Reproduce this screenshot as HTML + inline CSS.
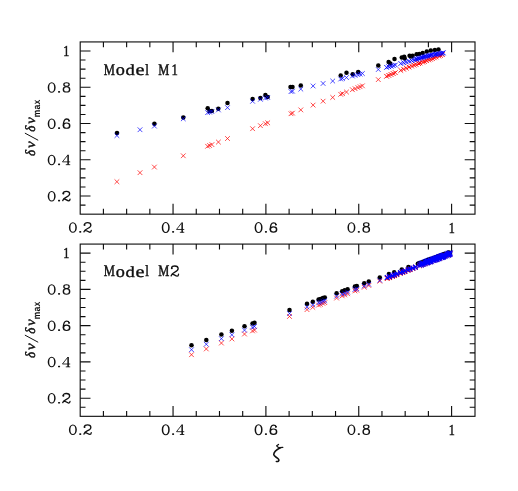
<!DOCTYPE html>
<html><head><meta charset="utf-8"><title>chart</title>
<style>
html,body{margin:0;padding:0;background:#fff;}
body{width:518px;height:491px;overflow:hidden;}
svg{display:block;font-family:"Liberation Serif",serif;}
svg text{text-rendering:geometricPrecision;filter:grayscale(1);}
</style></head><body>
<svg width="518" height="491" viewBox="0 0 518 491">
<rect width="518" height="491" fill="#fff"/>
<rect x="80.2" y="41.93" width="394.80" height="172.24" fill="none" stroke="#0d0d0d" stroke-width="1.12"/>
<path d="M103.41 41.93v5.3M103.41 214.17v-5.3M126.63 41.93v5.3M126.63 214.17v-5.3M149.84 41.93v5.3M149.84 214.17v-5.3M173.05 41.93v10.3M173.05 214.17v-10.3M196.26 41.93v5.3M196.26 214.17v-5.3M219.48 41.93v5.3M219.48 214.17v-5.3M242.69 41.93v5.3M242.69 214.17v-5.3M265.90 41.93v10.3M265.90 214.17v-10.3M289.11 41.93v5.3M289.11 214.17v-5.3M312.32 41.93v5.3M312.32 214.17v-5.3M335.54 41.93v5.3M335.54 214.17v-5.3M358.75 41.93v10.3M358.75 214.17v-10.3M381.96 41.93v5.3M381.96 214.17v-5.3M405.17 41.93v5.3M405.17 214.17v-5.3M428.39 41.93v5.3M428.39 214.17v-5.3M451.60 41.93v10.3M451.60 214.17v-10.3M80.2 205.11h5.3M475.0 205.11h-5.3M80.2 196.04h10.3M475.0 196.04h-10.3M80.2 186.98h5.3M475.0 186.98h-5.3M80.2 177.91h5.3M475.0 177.91h-5.3M80.2 168.84h5.3M475.0 168.84h-5.3M80.2 159.78h10.3M475.0 159.78h-10.3M80.2 150.72h5.3M475.0 150.72h-5.3M80.2 141.65h5.3M475.0 141.65h-5.3M80.2 132.58h5.3M475.0 132.58h-5.3M80.2 123.52h10.3M475.0 123.52h-10.3M80.2 114.45h5.3M475.0 114.45h-5.3M80.2 105.39h5.3M475.0 105.39h-5.3M80.2 96.33h5.3M475.0 96.33h-5.3M80.2 87.26h10.3M475.0 87.26h-10.3M80.2 78.19h5.3M475.0 78.19h-5.3M80.2 69.13h5.3M475.0 69.13h-5.3M80.2 60.06h5.3M475.0 60.06h-5.3M80.2 51.00h10.3M475.0 51.00h-10.3" stroke="#0d0d0d" stroke-width="1.12" fill="none"/>
<rect x="80.2" y="244.08" width="394.80" height="172.24" fill="none" stroke="#0d0d0d" stroke-width="1.12"/>
<path d="M103.41 244.08v5.3M103.41 416.32v-5.3M126.63 244.08v5.3M126.63 416.32v-5.3M149.84 244.08v5.3M149.84 416.32v-5.3M173.05 244.08v10.3M173.05 416.32v-10.3M196.26 244.08v5.3M196.26 416.32v-5.3M219.48 244.08v5.3M219.48 416.32v-5.3M242.69 244.08v5.3M242.69 416.32v-5.3M265.90 244.08v10.3M265.90 416.32v-10.3M289.11 244.08v5.3M289.11 416.32v-5.3M312.32 244.08v5.3M312.32 416.32v-5.3M335.54 244.08v5.3M335.54 416.32v-5.3M358.75 244.08v10.3M358.75 416.32v-10.3M381.96 244.08v5.3M381.96 416.32v-5.3M405.17 244.08v5.3M405.17 416.32v-5.3M428.39 244.08v5.3M428.39 416.32v-5.3M451.60 244.08v10.3M451.60 416.32v-10.3M80.2 407.25h5.3M475.0 407.25h-5.3M80.2 398.19h10.3M475.0 398.19h-10.3M80.2 389.12h5.3M475.0 389.12h-5.3M80.2 380.06h5.3M475.0 380.06h-5.3M80.2 371.00h5.3M475.0 371.00h-5.3M80.2 361.93h10.3M475.0 361.93h-10.3M80.2 352.87h5.3M475.0 352.87h-5.3M80.2 343.80h5.3M475.0 343.80h-5.3M80.2 334.74h5.3M475.0 334.74h-5.3M80.2 325.67h10.3M475.0 325.67h-10.3M80.2 316.61h5.3M475.0 316.61h-5.3M80.2 307.54h5.3M475.0 307.54h-5.3M80.2 298.48h5.3M475.0 298.48h-5.3M80.2 289.41h10.3M475.0 289.41h-10.3M80.2 280.34h5.3M475.0 280.34h-5.3M80.2 271.28h5.3M475.0 271.28h-5.3M80.2 262.21h5.3M475.0 262.21h-5.3M80.2 253.15h10.3M475.0 253.15h-10.3" stroke="#0d0d0d" stroke-width="1.12" fill="none"/>
<g fill="#111" stroke="#111" stroke-width="0"><path fill-rule="evenodd" d="M68.90 227.55a3.97 5.25 0 1 0 7.95 0a3.97 5.25 0 1 0 -7.95 0zM70.40 227.55a2.47 4.27 0 1 0 4.95 0a2.47 4.27 0 1 0 -4.95 0z"/><rect x="79.20" y="231.10" width="2.10" height="1.70" rx="0.7" ry="0.7"/><g transform="matrix(1.0000 0 0 1.0000 83.40 222.20)"><path d="M0.95 2.7 C0.9 1.1 2.4 0.5 4.1 0.5 C6.2 0.5 7.45 1.5 7.45 3.0 C7.45 4.7 6.0 5.5 4.2 6.3 C2.2 7.2 0.9 8.0 0.55 9.7M0.6 9.4 C1.2 8.2 2.5 8.1 3.7 8.8 C5.0 9.6 5.8 10.05 6.6 10.05 C7.4 10.05 7.75 9.4 7.85 8.3" fill="none" stroke="#111" stroke-width="1.3" stroke-linecap="round"/><circle cx="1.2" cy="2.7" r="0.95"/></g>
<path fill-rule="evenodd" d="M68.90 429.75a3.97 5.25 0 1 0 7.95 0a3.97 5.25 0 1 0 -7.95 0zM70.40 429.75a2.47 4.27 0 1 0 4.95 0a2.47 4.27 0 1 0 -4.95 0z"/><rect x="79.20" y="433.30" width="2.10" height="1.70" rx="0.7" ry="0.7"/><g transform="matrix(1.0000 0 0 1.0000 83.40 424.40)"><path d="M0.95 2.7 C0.9 1.1 2.4 0.5 4.1 0.5 C6.2 0.5 7.45 1.5 7.45 3.0 C7.45 4.7 6.0 5.5 4.2 6.3 C2.2 7.2 0.9 8.0 0.55 9.7M0.6 9.4 C1.2 8.2 2.5 8.1 3.7 8.8 C5.0 9.6 5.8 10.05 6.6 10.05 C7.4 10.05 7.75 9.4 7.85 8.3" fill="none" stroke="#111" stroke-width="1.3" stroke-linecap="round"/><circle cx="1.2" cy="2.7" r="0.95"/></g>
<path fill-rule="evenodd" d="M47.70 196.19a3.97 5.25 0 1 0 7.95 0a3.97 5.25 0 1 0 -7.95 0zM49.20 196.19a2.47 4.27 0 1 0 4.95 0a2.47 4.27 0 1 0 -4.95 0z"/><rect x="58.00" y="199.74" width="2.10" height="1.70" rx="0.7" ry="0.7"/><g transform="matrix(1.0000 0 0 1.0000 62.20 190.84)"><path d="M0.95 2.7 C0.9 1.1 2.4 0.5 4.1 0.5 C6.2 0.5 7.45 1.5 7.45 3.0 C7.45 4.7 6.0 5.5 4.2 6.3 C2.2 7.2 0.9 8.0 0.55 9.7M0.6 9.4 C1.2 8.2 2.5 8.1 3.7 8.8 C5.0 9.6 5.8 10.05 6.6 10.05 C7.4 10.05 7.75 9.4 7.85 8.3" fill="none" stroke="#111" stroke-width="1.3" stroke-linecap="round"/><circle cx="1.2" cy="2.7" r="0.95"/></g>
<path fill-rule="evenodd" d="M47.70 398.34a3.97 5.25 0 1 0 7.95 0a3.97 5.25 0 1 0 -7.95 0zM49.20 398.34a2.47 4.27 0 1 0 4.95 0a2.47 4.27 0 1 0 -4.95 0z"/><rect x="58.00" y="401.89" width="2.10" height="1.70" rx="0.7" ry="0.7"/><g transform="matrix(1.0000 0 0 1.0000 62.20 392.99)"><path d="M0.95 2.7 C0.9 1.1 2.4 0.5 4.1 0.5 C6.2 0.5 7.45 1.5 7.45 3.0 C7.45 4.7 6.0 5.5 4.2 6.3 C2.2 7.2 0.9 8.0 0.55 9.7M0.6 9.4 C1.2 8.2 2.5 8.1 3.7 8.8 C5.0 9.6 5.8 10.05 6.6 10.05 C7.4 10.05 7.75 9.4 7.85 8.3" fill="none" stroke="#111" stroke-width="1.3" stroke-linecap="round"/><circle cx="1.2" cy="2.7" r="0.95"/></g>
<path fill-rule="evenodd" d="M161.75 227.55a3.98 5.25 0 1 0 7.95 0a3.98 5.25 0 1 0 -7.95 0zM163.25 227.55a2.48 4.27 0 1 0 4.95 0a2.48 4.27 0 1 0 -4.95 0z"/><rect x="172.05" y="231.10" width="2.10" height="1.70" rx="0.7" ry="0.7"/><path d="M181.41 222.40h1.5V232.45h-1.5z"/><path d="M181.81 222.70L176.50 229.48H184.25M179.86 232.30h4.4" fill="none" stroke="#111" stroke-width="0.85" stroke-linejoin="round"/>
<path fill-rule="evenodd" d="M161.75 429.75a3.98 5.25 0 1 0 7.95 0a3.98 5.25 0 1 0 -7.95 0zM163.25 429.75a2.48 4.27 0 1 0 4.95 0a2.48 4.27 0 1 0 -4.95 0z"/><rect x="172.05" y="433.30" width="2.10" height="1.70" rx="0.7" ry="0.7"/><path d="M181.41 424.60h1.5V434.65h-1.5z"/><path d="M181.81 424.90L176.50 431.68H184.25M179.86 434.50h4.4" fill="none" stroke="#111" stroke-width="0.85" stroke-linejoin="round"/>
<path fill-rule="evenodd" d="M47.70 159.93a3.97 5.25 0 1 0 7.95 0a3.97 5.25 0 1 0 -7.95 0zM49.20 159.93a2.47 4.27 0 1 0 4.95 0a2.47 4.27 0 1 0 -4.95 0z"/><rect x="58.00" y="163.48" width="2.10" height="1.70" rx="0.7" ry="0.7"/><path d="M67.36 154.78h1.5V164.83h-1.5z"/><path d="M67.76 155.08L62.45 161.86H70.20M65.81 164.68h4.4" fill="none" stroke="#111" stroke-width="0.85" stroke-linejoin="round"/>
<path fill-rule="evenodd" d="M47.70 362.08a3.97 5.25 0 1 0 7.95 0a3.97 5.25 0 1 0 -7.95 0zM49.20 362.08a2.47 4.27 0 1 0 4.95 0a2.47 4.27 0 1 0 -4.95 0z"/><rect x="58.00" y="365.63" width="2.10" height="1.70" rx="0.7" ry="0.7"/><path d="M67.36 356.93h1.5V366.98h-1.5z"/><path d="M67.76 357.23L62.45 364.01H70.20M65.81 366.83h4.4" fill="none" stroke="#111" stroke-width="0.85" stroke-linejoin="round"/>
<path fill-rule="evenodd" d="M254.60 227.55a3.98 5.25 0 1 0 7.95 0a3.98 5.25 0 1 0 -7.95 0zM256.10 227.55a2.48 4.27 0 1 0 4.95 0a2.48 4.27 0 1 0 -4.95 0z"/><rect x="264.90" y="231.10" width="2.10" height="1.70" rx="0.7" ry="0.7"/><g transform="matrix(1.0064 0 0 0.9815 269.50 222.25)"><path fill-rule="evenodd" d="M0.10 7.40a3.85 3.30 0 1 0 7.70 0a3.85 3.30 0 1 0 -7.70 0zM1.55 7.40a2.40 2.15 0 1 0 4.80 0a2.40 2.15 0 1 0 -4.80 0z"/><path d="M6.5 2.4 C6.3 1.1 5.0 0.65 3.95 0.65 C1.9 0.65 0.75 3.0 0.75 7.3" fill="none" stroke="#111" stroke-width="1.3" stroke-linecap="round"/><circle cx="6.35" cy="2.35" r="0.9"/></g>
<path fill-rule="evenodd" d="M254.60 429.75a3.98 5.25 0 1 0 7.95 0a3.98 5.25 0 1 0 -7.95 0zM256.10 429.75a2.48 4.27 0 1 0 4.95 0a2.48 4.27 0 1 0 -4.95 0z"/><rect x="264.90" y="433.30" width="2.10" height="1.70" rx="0.7" ry="0.7"/><g transform="matrix(1.0064 0 0 0.9815 269.50 424.45)"><path fill-rule="evenodd" d="M0.10 7.40a3.85 3.30 0 1 0 7.70 0a3.85 3.30 0 1 0 -7.70 0zM1.55 7.40a2.40 2.15 0 1 0 4.80 0a2.40 2.15 0 1 0 -4.80 0z"/><path d="M6.5 2.4 C6.3 1.1 5.0 0.65 3.95 0.65 C1.9 0.65 0.75 3.0 0.75 7.3" fill="none" stroke="#111" stroke-width="1.3" stroke-linecap="round"/><circle cx="6.35" cy="2.35" r="0.9"/></g>
<path fill-rule="evenodd" d="M47.70 123.67a3.97 5.25 0 1 0 7.95 0a3.97 5.25 0 1 0 -7.95 0zM49.20 123.67a2.47 4.27 0 1 0 4.95 0a2.47 4.27 0 1 0 -4.95 0z"/><rect x="58.00" y="127.22" width="2.10" height="1.70" rx="0.7" ry="0.7"/><g transform="matrix(1.0064 0 0 0.9815 62.60 118.37)"><path fill-rule="evenodd" d="M0.10 7.40a3.85 3.30 0 1 0 7.70 0a3.85 3.30 0 1 0 -7.70 0zM1.55 7.40a2.40 2.15 0 1 0 4.80 0a2.40 2.15 0 1 0 -4.80 0z"/><path d="M6.5 2.4 C6.3 1.1 5.0 0.65 3.95 0.65 C1.9 0.65 0.75 3.0 0.75 7.3" fill="none" stroke="#111" stroke-width="1.3" stroke-linecap="round"/><circle cx="6.35" cy="2.35" r="0.9"/></g>
<path fill-rule="evenodd" d="M47.70 325.82a3.97 5.25 0 1 0 7.95 0a3.97 5.25 0 1 0 -7.95 0zM49.20 325.82a2.47 4.27 0 1 0 4.95 0a2.47 4.27 0 1 0 -4.95 0z"/><rect x="58.00" y="329.37" width="2.10" height="1.70" rx="0.7" ry="0.7"/><g transform="matrix(1.0064 0 0 0.9815 62.60 320.52)"><path fill-rule="evenodd" d="M0.10 7.40a3.85 3.30 0 1 0 7.70 0a3.85 3.30 0 1 0 -7.70 0zM1.55 7.40a2.40 2.15 0 1 0 4.80 0a2.40 2.15 0 1 0 -4.80 0z"/><path d="M6.5 2.4 C6.3 1.1 5.0 0.65 3.95 0.65 C1.9 0.65 0.75 3.0 0.75 7.3" fill="none" stroke="#111" stroke-width="1.3" stroke-linecap="round"/><circle cx="6.35" cy="2.35" r="0.9"/></g>
<path fill-rule="evenodd" d="M347.45 227.55a3.97 5.25 0 1 0 7.95 0a3.97 5.25 0 1 0 -7.95 0zM348.95 227.55a2.47 4.27 0 1 0 4.95 0a2.47 4.27 0 1 0 -4.95 0z"/><rect x="357.75" y="231.10" width="2.10" height="1.70" rx="0.7" ry="0.7"/><g transform="matrix(1.0000 0 0 1.0000 362.30 222.25)"><path fill-rule="evenodd" d="M0.65 2.40a3.30 2.30 0 1 0 6.60 0a3.30 2.30 0 1 0 -6.60 0zM1.95 2.40a2.00 1.35 0 1 0 4.00 0a2.00 1.35 0 1 0 -4.00 0z"/><path fill-rule="evenodd" d="M0.10 7.30a3.85 3.20 0 1 0 7.70 0a3.85 3.20 0 1 0 -7.70 0zM1.50 7.30a2.45 2.20 0 1 0 4.90 0a2.45 2.20 0 1 0 -4.90 0z"/></g>
<path fill-rule="evenodd" d="M347.45 429.75a3.97 5.25 0 1 0 7.95 0a3.97 5.25 0 1 0 -7.95 0zM348.95 429.75a2.47 4.27 0 1 0 4.95 0a2.47 4.27 0 1 0 -4.95 0z"/><rect x="357.75" y="433.30" width="2.10" height="1.70" rx="0.7" ry="0.7"/><g transform="matrix(1.0000 0 0 1.0000 362.30 424.45)"><path fill-rule="evenodd" d="M0.65 2.40a3.30 2.30 0 1 0 6.60 0a3.30 2.30 0 1 0 -6.60 0zM1.95 2.40a2.00 1.35 0 1 0 4.00 0a2.00 1.35 0 1 0 -4.00 0z"/><path fill-rule="evenodd" d="M0.10 7.30a3.85 3.20 0 1 0 7.70 0a3.85 3.20 0 1 0 -7.70 0zM1.50 7.30a2.45 2.20 0 1 0 4.90 0a2.45 2.20 0 1 0 -4.90 0z"/></g>
<path fill-rule="evenodd" d="M47.70 87.41a3.97 5.25 0 1 0 7.95 0a3.97 5.25 0 1 0 -7.95 0zM49.20 87.41a2.47 4.27 0 1 0 4.95 0a2.47 4.27 0 1 0 -4.95 0z"/><rect x="58.00" y="90.96" width="2.10" height="1.70" rx="0.7" ry="0.7"/><g transform="matrix(1.0000 0 0 1.0000 62.55 82.11)"><path fill-rule="evenodd" d="M0.65 2.40a3.30 2.30 0 1 0 6.60 0a3.30 2.30 0 1 0 -6.60 0zM1.95 2.40a2.00 1.35 0 1 0 4.00 0a2.00 1.35 0 1 0 -4.00 0z"/><path fill-rule="evenodd" d="M0.10 7.30a3.85 3.20 0 1 0 7.70 0a3.85 3.20 0 1 0 -7.70 0zM1.50 7.30a2.45 2.20 0 1 0 4.90 0a2.45 2.20 0 1 0 -4.90 0z"/></g>
<path fill-rule="evenodd" d="M47.70 289.56a3.97 5.25 0 1 0 7.95 0a3.97 5.25 0 1 0 -7.95 0zM49.20 289.56a2.47 4.27 0 1 0 4.95 0a2.47 4.27 0 1 0 -4.95 0z"/><rect x="58.00" y="293.11" width="2.10" height="1.70" rx="0.7" ry="0.7"/><g transform="matrix(1.0000 0 0 1.0000 62.55 284.26)"><path fill-rule="evenodd" d="M0.65 2.40a3.30 2.30 0 1 0 6.60 0a3.30 2.30 0 1 0 -6.60 0zM1.95 2.40a2.00 1.35 0 1 0 4.00 0a2.00 1.35 0 1 0 -4.00 0z"/><path fill-rule="evenodd" d="M0.10 7.30a3.85 3.20 0 1 0 7.70 0a3.85 3.20 0 1 0 -7.70 0zM1.50 7.30a2.45 2.20 0 1 0 4.90 0a2.45 2.20 0 1 0 -4.90 0z"/></g>
<text transform="matrix(0.1214 0 0 0.1523 448.78 232.62)" font-size="100" stroke-width="3.29">1</text>
<text transform="matrix(0.1214 0 0 0.1523 448.78 434.82)" font-size="100" stroke-width="3.29">1</text>
<text transform="matrix(0.1214 0 0 0.1523 63.18 56.22)" font-size="100" stroke-width="3.29">1</text>
<text transform="matrix(0.1214 0 0 0.1523 63.18 258.38)" font-size="100" stroke-width="3.29">1</text>
<text transform="matrix(0.1263 0 0 0.1620 103.78 74.54)" font-size="100" stroke-width="2.91">M</text><text transform="matrix(0.1817 0 0 0.1683 115.73 74.62)" font-size="100" stroke-width="2.40">o</text><text transform="matrix(0.1851 0 0 0.1533 125.47 74.59)" font-size="100" stroke-width="2.48">d</text><text transform="matrix(0.2035 0 0 0.1673 135.55 74.57)" font-size="100" stroke-width="2.27">e</text><text transform="matrix(0.1325 0 0 0.1541 145.35 74.54)" font-size="100" stroke-width="2.93">l</text><text transform="matrix(0.1239 0 0 0.1620 158.34 74.54)" font-size="100" stroke-width="2.94">M</text><text transform="matrix(0.1266 0 0 0.1595 171.52 74.54)" font-size="100" stroke-width="2.94">1</text>
<text transform="matrix(0.1263 0 0 0.1620 103.78 276.49)" font-size="100" stroke-width="2.91">M</text><text transform="matrix(0.1817 0 0 0.1683 115.73 276.57)" font-size="100" stroke-width="2.40">o</text><text transform="matrix(0.1851 0 0 0.1533 125.47 276.54)" font-size="100" stroke-width="2.48">d</text><text transform="matrix(0.2035 0 0 0.1673 135.55 276.52)" font-size="100" stroke-width="2.27">e</text><text transform="matrix(0.1325 0 0 0.1541 145.35 276.49)" font-size="100" stroke-width="2.93">l</text><text transform="matrix(0.1239 0 0 0.1620 158.34 276.49)" font-size="100" stroke-width="2.94">M</text><g transform="matrix(1.0122 0 0 1.0701 170.60 265.40)"><path d="M0.95 2.7 C0.9 1.1 2.4 0.5 4.1 0.5 C6.2 0.5 7.45 1.5 7.45 3.0 C7.45 4.7 6.0 5.5 4.2 6.3 C2.2 7.2 0.9 8.0 0.55 9.7M0.6 9.4 C1.2 8.2 2.5 8.1 3.7 8.8 C5.0 9.6 5.8 10.05 6.6 10.05 C7.4 10.05 7.75 9.4 7.85 8.3" fill="none" stroke="#111" stroke-width="1.3" stroke-linecap="round"/><circle cx="1.2" cy="2.7" r="0.95"/></g>
<g transform="translate(35.9,156.0) rotate(-90)"><text transform="matrix(0.1300 0 0 0.1408 0.04 -0.72)" font-size="100" stroke-width="3.32" font-style="italic">δ</text><text transform="matrix(0.1512 0 0 0.1362 7.92 -0.41)" font-size="100" stroke-width="3.13" font-style="italic">ν</text><path d="M15.75 2.3L22.9 -11.0" stroke="#111" stroke-width="1.0" fill="none"/><text transform="matrix(0.1300 0 0 0.1408 24.14 -0.72)" font-size="100" stroke-width="3.32" font-style="italic">δ</text><text transform="matrix(0.1464 0 0 0.1362 32.23 -0.41)" font-size="100" stroke-width="3.18" font-style="italic">ν</text><text transform="matrix(0.0842 0 0 0.0972 38.71 4.35)" font-size="100" stroke-width="0.00" font-weight="bold" font-family="Liberation Sans, sans-serif">m</text><text transform="matrix(0.0868 0 0 0.0964 46.54 4.30)" font-size="100" stroke-width="0.00" font-weight="bold" font-family="Liberation Sans, sans-serif">a</text><text transform="matrix(0.0815 0 0 0.0991 51.82 4.35)" font-size="100" stroke-width="0.00" font-weight="bold" font-family="Liberation Sans, sans-serif">x</text></g>
<g transform="translate(35.9,358.0) rotate(-90)"><text transform="matrix(0.1300 0 0 0.1408 0.04 -0.72)" font-size="100" stroke-width="3.32" font-style="italic">δ</text><text transform="matrix(0.1512 0 0 0.1362 7.92 -0.41)" font-size="100" stroke-width="3.13" font-style="italic">ν</text><path d="M15.75 2.3L22.9 -11.0" stroke="#111" stroke-width="1.0" fill="none"/><text transform="matrix(0.1300 0 0 0.1408 24.14 -0.72)" font-size="100" stroke-width="3.32" font-style="italic">δ</text><text transform="matrix(0.1464 0 0 0.1362 32.23 -0.41)" font-size="100" stroke-width="3.18" font-style="italic">ν</text><text transform="matrix(0.0842 0 0 0.0972 38.71 4.35)" font-size="100" stroke-width="0.00" font-weight="bold" font-family="Liberation Sans, sans-serif">m</text><text transform="matrix(0.0868 0 0 0.0964 46.54 4.30)" font-size="100" stroke-width="0.00" font-weight="bold" font-family="Liberation Sans, sans-serif">a</text><text transform="matrix(0.0815 0 0 0.0991 51.82 4.35)" font-size="100" stroke-width="0.00" font-weight="bold" font-family="Liberation Sans, sans-serif">x</text></g>
<g transform="translate(262,438) scale(0.061767)"><path d="M268 104L237 127C250 145 265 156 287 157L338 151" fill="none" stroke="#111" stroke-width="19" stroke-linecap="round" stroke-linejoin="round"/><path d="M297 158C240 185 192 225 190 268C189 300 255 315 271 348C281 372 262 384 232 380" fill="none" stroke="#111" stroke-width="26" stroke-linecap="round" stroke-linejoin="round"/></g></g>
<g fill="#000"><circle cx="117.00" cy="132.90" r="2.25"/><circle cx="154.40" cy="123.80" r="2.25"/><circle cx="183.30" cy="117.40" r="2.25"/><circle cx="207.70" cy="108.30" r="2.25"/><circle cx="209.50" cy="111.10" r="2.25"/><circle cx="211.90" cy="111.00" r="2.25"/><circle cx="218.30" cy="108.70" r="2.25"/><circle cx="227.50" cy="103.10" r="2.25"/><circle cx="252.60" cy="98.90" r="2.25"/><circle cx="260.40" cy="98.10" r="2.25"/><circle cx="265.40" cy="95.10" r="2.25"/><circle cx="267.70" cy="97.10" r="2.25"/><circle cx="290.50" cy="86.90" r="2.25"/><circle cx="292.50" cy="86.90" r="2.25"/><circle cx="300.80" cy="85.60" r="2.25"/><circle cx="340.70" cy="75.60" r="2.25"/><circle cx="346.50" cy="72.80" r="2.25"/><circle cx="352.70" cy="74.30" r="2.25"/><circle cx="358.20" cy="72.00" r="2.25"/><circle cx="378.30" cy="65.40" r="2.25"/><circle cx="388.60" cy="62.00" r="2.25"/><circle cx="390.20" cy="63.40" r="2.25"/><circle cx="394.50" cy="58.90" r="2.25"/><circle cx="401.80" cy="57.40" r="2.25"/><circle cx="404.20" cy="56.70" r="2.25"/><circle cx="404.70" cy="58.40" r="2.25"/><circle cx="409.60" cy="55.70" r="2.25"/><circle cx="411.10" cy="56.50" r="2.25"/><circle cx="412.60" cy="55.70" r="2.25"/><circle cx="416.60" cy="54.20" r="2.25"/><circle cx="419.30" cy="54.00" r="2.25"/><circle cx="422.70" cy="53.00" r="2.25"/><circle cx="426.80" cy="51.50" r="2.25"/><circle cx="430.80" cy="50.50" r="2.25"/><circle cx="434.90" cy="49.90" r="2.25"/><circle cx="438.50" cy="49.50" r="2.25"/></g>
<path d="M114.55 179.36l4.70 4.70M114.55 184.06l4.70 -4.70M137.65 170.34l4.70 4.70M137.65 175.04l4.70 -4.70M152.05 164.71l4.70 4.70M152.05 169.41l4.70 -4.70M180.95 153.43l4.70 4.70M180.95 158.13l4.70 -4.70M205.25 143.94l4.70 4.70M205.25 148.64l4.70 -4.70M207.25 143.16l4.70 4.70M207.25 147.86l4.70 -4.70M209.55 142.26l4.70 4.70M209.55 146.96l4.70 -4.70M216.05 139.72l4.70 4.70M216.05 144.42l4.70 -4.70M225.15 136.17l4.70 4.70M225.15 140.87l4.70 -4.70M250.25 126.36l4.70 4.70M250.25 131.06l4.70 -4.70M258.05 123.32l4.70 4.70M258.05 128.02l4.70 -4.70M263.05 121.37l4.70 4.70M263.05 126.07l4.70 -4.70M265.35 120.47l4.70 4.70M265.35 125.17l4.70 -4.70M288.65 111.37l4.70 4.70M288.65 116.07l4.70 -4.70M290.15 110.78l4.70 4.70M290.15 115.48l4.70 -4.70M298.45 107.54l4.70 4.70M298.45 112.24l4.70 -4.70M310.75 102.74l4.70 4.70M310.75 107.44l4.70 -4.70M320.75 98.83l4.70 4.70M320.75 103.53l4.70 -4.70M330.35 95.08l4.70 4.70M330.35 99.78l4.70 -4.70M338.35 91.96l4.70 4.70M338.35 96.66l4.70 -4.70M340.15 91.26l4.70 4.70M340.15 95.96l4.70 -4.70M344.15 89.69l4.70 4.70M344.15 94.39l4.70 -4.70M350.05 87.39l4.70 4.70M350.05 92.09l4.70 -4.70M352.75 86.34l4.70 4.70M352.75 91.04l4.70 -4.70M355.55 85.24l4.70 4.70M355.55 89.94l4.70 -4.70M357.75 84.38l4.70 4.70M357.75 89.08l4.70 -4.70M360.05 83.48l4.70 4.70M360.05 88.18l4.70 -4.70M375.95 77.26l4.70 4.70M375.95 81.96l4.70 -4.70" stroke="#ff0000" stroke-width="0.7" fill="none"/>
<path d="M384.25 73.93l4.70 4.70M384.25 78.63l4.70 -4.70M386.45 73.03l4.70 4.70M386.45 77.73l4.70 -4.70M388.65 72.12l4.70 4.70M388.65 76.82l4.70 -4.70M390.85 71.20l4.70 4.70M390.85 75.90l4.70 -4.70M392.95 70.32l4.70 4.70M392.95 75.02l4.70 -4.70M398.45 68.00l4.70 4.70M398.45 72.70l4.70 -4.70M401.25 66.84l4.70 4.70M401.25 71.54l4.70 -4.70M403.95 65.75l4.70 4.70M403.95 70.45l4.70 -4.70M406.65 64.69l4.70 4.70M406.65 69.39l4.70 -4.70M409.25 63.70l4.70 4.70M409.25 68.40l4.70 -4.70M411.65 62.81l4.70 4.70M411.65 67.51l4.70 -4.70" stroke="#ff0000" stroke-width="0.9" fill="none"/>
<path d="M413.63 62.09l4.70 4.70M413.63 66.79l4.70 -4.70M416.18 61.18l4.70 4.70M416.18 65.88l4.70 -4.70M417.68 60.64l4.70 4.70M417.68 65.34l4.70 -4.70M420.27 59.71l4.70 4.70M420.27 64.41l4.70 -4.70M421.96 59.09l4.70 4.70M421.96 63.79l4.70 -4.70M424.09 58.32l4.70 4.70M424.09 63.02l4.70 -4.70M426.24 57.52l4.70 4.70M426.24 62.22l4.70 -4.70M428.07 56.84l4.70 4.70M428.07 61.54l4.70 -4.70M429.93 56.14l4.70 4.70M429.93 60.84l4.70 -4.70M431.87 55.40l4.70 4.70M431.87 60.10l4.70 -4.70M433.81 54.65l4.70 4.70M433.81 59.35l4.70 -4.70M436.37 53.66l4.70 4.70M436.37 58.36l4.70 -4.70M438.16 52.97l4.70 4.70M438.16 57.67l4.70 -4.70M439.97 52.27l4.70 4.70M439.97 56.97l4.70 -4.70" stroke="#ff0000" stroke-width="0.95" fill="none"/>
<path d="M114.55 133.22l4.70 4.70M114.55 137.92l4.70 -4.70M137.65 127.38l4.70 4.70M137.65 132.08l4.70 -4.70M152.05 123.74l4.70 4.70M152.05 128.44l4.70 -4.70M180.95 116.44l4.70 4.70M180.95 121.14l4.70 -4.70M205.25 110.30l4.70 4.70M205.25 115.00l4.70 -4.70M207.25 109.80l4.70 4.70M207.25 114.50l4.70 -4.70M209.55 109.21l4.70 4.70M209.55 113.91l4.70 -4.70M216.05 107.57l4.70 4.70M216.05 112.27l4.70 -4.70M225.15 105.27l4.70 4.70M225.15 109.97l4.70 -4.70M250.25 98.93l4.70 4.70M250.25 103.63l4.70 -4.70M258.05 96.96l4.70 4.70M258.05 101.66l4.70 -4.70M263.05 95.70l4.70 4.70M263.05 100.40l4.70 -4.70M265.35 95.12l4.70 4.70M265.35 99.82l4.70 -4.70M288.65 89.23l4.70 4.70M288.65 93.93l4.70 -4.70M290.15 88.85l4.70 4.70M290.15 93.55l4.70 -4.70M298.45 86.75l4.70 4.70M298.45 91.45l4.70 -4.70M310.75 83.64l4.70 4.70M310.75 88.34l4.70 -4.70M320.75 81.12l4.70 4.70M320.75 85.82l4.70 -4.70M330.35 78.69l4.70 4.70M330.35 83.39l4.70 -4.70M338.35 76.67l4.70 4.70M338.35 81.37l4.70 -4.70M340.15 76.22l4.70 4.70M340.15 80.92l4.70 -4.70M344.15 75.21l4.70 4.70M344.15 79.91l4.70 -4.70M350.05 73.71l4.70 4.70M350.05 78.41l4.70 -4.70M352.75 73.03l4.70 4.70M352.75 77.73l4.70 -4.70M355.55 72.32l4.70 4.70M355.55 77.02l4.70 -4.70M357.75 71.77l4.70 4.70M357.75 76.47l4.70 -4.70M360.05 71.19l4.70 4.70M360.05 75.89l4.70 -4.70M375.95 67.16l4.70 4.70M375.95 71.86l4.70 -4.70" stroke="#0000ff" stroke-width="0.7" fill="none"/>
<path d="M384.25 65.01l4.70 4.70M384.25 69.71l4.70 -4.70M386.45 64.43l4.70 4.70M386.45 69.13l4.70 -4.70M388.65 63.84l4.70 4.70M388.65 68.54l4.70 -4.70M390.85 63.24l4.70 4.70M390.85 67.94l4.70 -4.70M392.95 62.67l4.70 4.70M392.95 67.37l4.70 -4.70M398.45 61.16l4.70 4.70M398.45 65.86l4.70 -4.70M401.25 60.39l4.70 4.70M401.25 65.09l4.70 -4.70M403.95 59.65l4.70 4.70M403.95 64.35l4.70 -4.70M406.65 58.91l4.70 4.70M406.65 63.61l4.70 -4.70M409.25 58.18l4.70 4.70M409.25 62.88l4.70 -4.70M411.65 57.50l4.70 4.70M411.65 62.20l4.70 -4.70" stroke="#0000ff" stroke-width="0.9" fill="none"/>
<path d="M413.55 56.94l4.70 4.70M413.55 61.64l4.70 -4.70M414.47 56.67l4.70 4.70M414.47 61.37l4.70 -4.70M415.98 56.22l4.70 4.70M415.98 60.92l4.70 -4.70M417.29 55.84l4.70 4.70M417.29 60.54l4.70 -4.70M418.95 55.34l4.70 4.70M418.95 60.04l4.70 -4.70M420.31 54.95l4.70 4.70M420.31 59.65l4.70 -4.70M421.73 54.55l4.70 4.70M421.73 59.25l4.70 -4.70M422.86 54.24l4.70 4.70M422.86 58.94l4.70 -4.70M424.28 53.87l4.70 4.70M424.28 58.57l4.70 -4.70M425.65 53.53l4.70 4.70M425.65 58.23l4.70 -4.70M427.11 53.19l4.70 4.70M427.11 57.89l4.70 -4.70M428.37 52.92l4.70 4.70M428.37 57.62l4.70 -4.70M429.78 52.63l4.70 4.70M429.78 57.33l4.70 -4.70M431.82 52.23l4.70 4.70M431.82 56.93l4.70 -4.70M433.22 51.97l4.70 4.70M433.22 56.67l4.70 -4.70M434.00 51.82l4.70 4.70M434.00 56.52l4.70 -4.70M435.27 51.59l4.70 4.70M435.27 56.29l4.70 -4.70M436.81 51.31l4.70 4.70M436.81 56.01l4.70 -4.70M438.61 50.96l4.70 4.70M438.61 55.66l4.70 -4.70M440.07 50.67l4.70 4.70M440.07 55.37l4.70 -4.70M440.87 50.51l4.70 4.70M440.87 55.21l4.70 -4.70" stroke="#0000ff" stroke-width="0.95" fill="none"/>
<g fill="#000"><circle cx="191.50" cy="345.30" r="2.25"/><circle cx="206.30" cy="339.98" r="2.25"/><circle cx="221.40" cy="334.55" r="2.25"/><circle cx="231.90" cy="330.78" r="2.25"/><circle cx="244.50" cy="326.25" r="2.25"/><circle cx="252.50" cy="323.38" r="2.25"/><circle cx="254.50" cy="322.66" r="2.25"/><circle cx="289.50" cy="310.08" r="2.25"/><circle cx="307.00" cy="303.79" r="2.25"/><circle cx="312.80" cy="301.70" r="2.25"/><circle cx="318.60" cy="299.62" r="2.25"/><circle cx="320.50" cy="298.94" r="2.25"/><circle cx="322.90" cy="298.07" r="2.25"/><circle cx="324.80" cy="297.39" r="2.25"/><circle cx="336.60" cy="293.15" r="2.25"/><circle cx="342.20" cy="291.14" r="2.25"/><circle cx="344.70" cy="290.24" r="2.25"/><circle cx="347.60" cy="289.20" r="2.25"/><circle cx="354.90" cy="286.57" r="2.25"/><circle cx="356.80" cy="285.89" r="2.25"/><circle cx="364.20" cy="283.23" r="2.25"/><circle cx="368.80" cy="281.58" r="2.25"/><circle cx="379.80" cy="277.62" r="2.25"/><circle cx="388.90" cy="274.05" r="2.25"/><circle cx="394.20" cy="272.15" r="2.25"/><circle cx="401.80" cy="269.42" r="2.25"/><circle cx="408.40" cy="267.05" r="2.25"/><circle cx="417.80" cy="263.67" r="2.25"/><circle cx="419.44" cy="263.08" r="2.25"/><circle cx="422.07" cy="262.13" r="2.25"/><circle cx="424.45" cy="261.28" r="2.25"/><circle cx="426.93" cy="260.39" r="2.25"/><circle cx="427.66" cy="260.12" r="2.25"/><circle cx="429.53" cy="259.45" r="2.25"/><circle cx="430.38" cy="259.15" r="2.25"/><circle cx="432.97" cy="258.21" r="2.25"/><circle cx="434.40" cy="257.70" r="2.25"/><circle cx="435.89" cy="257.17" r="2.25"/><circle cx="436.67" cy="256.89" r="2.25"/><circle cx="438.47" cy="256.24" r="2.25"/><circle cx="438.96" cy="256.06" r="2.25"/><circle cx="441.12" cy="255.29" r="2.25"/><circle cx="442.08" cy="254.94" r="2.25"/><circle cx="442.73" cy="254.71" r="2.25"/><circle cx="443.66" cy="254.37" r="2.25"/><circle cx="445.32" cy="253.78" r="2.25"/><circle cx="448.07" cy="252.79" r="2.25"/><circle cx="448.98" cy="252.46" r="2.25"/></g>
<path d="M189.15 352.37l4.70 4.70M189.15 357.07l4.70 -4.70M203.95 346.60l4.70 4.70M203.95 351.30l4.70 -4.70M219.05 340.70l4.70 4.70M219.05 345.40l4.70 -4.70M229.55 336.60l4.70 4.70M229.55 341.30l4.70 -4.70M242.15 331.68l4.70 4.70M242.15 336.38l4.70 -4.70M250.15 328.55l4.70 4.70M250.15 333.25l4.70 -4.70M252.15 327.77l4.70 4.70M252.15 332.47l4.70 -4.70M287.15 314.10l4.70 4.70M287.15 318.80l4.70 -4.70M304.65 307.27l4.70 4.70M304.65 311.97l4.70 -4.70M310.45 305.00l4.70 4.70M310.45 309.70l4.70 -4.70M316.25 302.74l4.70 4.70M316.25 307.44l4.70 -4.70M318.15 302.00l4.70 4.70M318.15 306.70l4.70 -4.70M320.55 301.06l4.70 4.70M320.55 305.76l4.70 -4.70M322.45 300.32l4.70 4.70M322.45 305.02l4.70 -4.70M334.25 295.71l4.70 4.70M334.25 300.41l4.70 -4.70M339.85 293.52l4.70 4.70M339.85 298.22l4.70 -4.70M342.35 292.55l4.70 4.70M342.35 297.25l4.70 -4.70M345.25 291.41l4.70 4.70M345.25 296.11l4.70 -4.70M352.55 288.56l4.70 4.70M352.55 293.26l4.70 -4.70M354.45 287.82l4.70 4.70M354.45 292.52l4.70 -4.70M361.85 284.93l4.70 4.70M361.85 289.63l4.70 -4.70M366.45 283.14l4.70 4.70M366.45 287.84l4.70 -4.70M377.45 278.84l4.70 4.70M377.45 283.54l4.70 -4.70" stroke="#ff0000" stroke-width="0.7" fill="none"/>
<path d="M384.85 275.95l4.70 4.70M384.85 280.65l4.70 -4.70M387.25 275.01l4.70 4.70M387.25 279.71l4.70 -4.70M390.05 273.92l4.70 4.70M390.05 278.62l4.70 -4.70M392.15 273.10l4.70 4.70M392.15 277.80l4.70 -4.70M394.55 272.16l4.70 4.70M394.55 276.86l4.70 -4.70M398.05 270.79l4.70 4.70M398.05 275.49l4.70 -4.70M400.45 269.86l4.70 4.70M400.45 274.56l4.70 -4.70M402.55 269.04l4.70 4.70M402.55 273.74l4.70 -4.70M405.75 267.79l4.70 4.70M405.75 272.49l4.70 -4.70M407.75 267.01l4.70 4.70M407.75 271.71l4.70 -4.70M410.55 265.91l4.70 4.70M410.55 270.61l4.70 -4.70M413.05 264.94l4.70 4.70M413.05 269.64l4.70 -4.70" stroke="#ff0000" stroke-width="1.2" fill="none"/>
<path d="M417.09 263.36l4.70 4.70M417.09 268.06l4.70 -4.70M418.66 262.75l4.70 4.70M418.66 267.45l4.70 -4.70M419.72 262.33l4.70 4.70M419.72 267.03l4.70 -4.70M420.53 262.02l4.70 4.70M420.53 266.72l4.70 -4.70M422.10 261.40l4.70 4.70M422.10 266.10l4.70 -4.70M423.18 260.98l4.70 4.70M423.18 265.68l4.70 -4.70M424.58 260.43l4.70 4.70M424.58 265.13l4.70 -4.70M425.00 260.27l4.70 4.70M425.00 264.97l4.70 -4.70M425.31 260.15l4.70 4.70M425.31 264.85l4.70 -4.70M425.96 259.89l4.70 4.70M425.96 264.59l4.70 -4.70M427.18 259.42l4.70 4.70M427.18 264.12l4.70 -4.70M427.84 259.16l4.70 4.70M427.84 263.86l4.70 -4.70M428.03 259.09l4.70 4.70M428.03 263.79l4.70 -4.70M428.80 258.78l4.70 4.70M428.80 263.48l4.70 -4.70M430.62 258.07l4.70 4.70M430.62 262.77l4.70 -4.70M431.01 257.92l4.70 4.70M431.01 262.62l4.70 -4.70M432.05 257.52l4.70 4.70M432.05 262.22l4.70 -4.70M433.11 257.10l4.70 4.70M433.11 261.80l4.70 -4.70M433.54 256.93l4.70 4.70M433.54 261.63l4.70 -4.70M433.64 256.90l4.70 4.70M433.64 261.60l4.70 -4.70M434.32 256.63l4.70 4.70M434.32 261.33l4.70 -4.70M434.58 256.53l4.70 4.70M434.58 261.23l4.70 -4.70M436.12 255.93l4.70 4.70M436.12 260.63l4.70 -4.70M436.40 255.82l4.70 4.70M436.40 260.52l4.70 -4.70M436.61 255.74l4.70 4.70M436.61 260.44l4.70 -4.70M437.43 255.42l4.70 4.70M437.43 260.12l4.70 -4.70M438.77 254.89l4.70 4.70M438.77 259.59l4.70 -4.70M439.24 254.71l4.70 4.70M439.24 259.41l4.70 -4.70M439.73 254.52l4.70 4.70M439.73 259.22l4.70 -4.70M440.11 254.37l4.70 4.70M440.11 259.07l4.70 -4.70M440.38 254.27l4.70 4.70M440.38 258.97l4.70 -4.70M440.82 254.09l4.70 4.70M440.82 258.79l4.70 -4.70M441.31 253.90l4.70 4.70M441.31 258.60l4.70 -4.70M441.88 253.68l4.70 4.70M441.88 258.38l4.70 -4.70M442.97 253.25l4.70 4.70M442.97 257.95l4.70 -4.70M444.51 252.65l4.70 4.70M444.51 257.35l4.70 -4.70M445.72 252.18l4.70 4.70M445.72 256.88l4.70 -4.70M445.99 252.07l4.70 4.70M445.99 256.77l4.70 -4.70M446.63 251.82l4.70 4.70M446.63 256.52l4.70 -4.70M447.74 251.39l4.70 4.70M447.74 256.09l4.70 -4.70" stroke="#ff0000" stroke-width="0.9" fill="none"/>
<path d="M189.15 347.35l4.70 4.70M189.15 352.05l4.70 -4.70M203.95 341.89l4.70 4.70M203.95 346.59l4.70 -4.70M219.05 336.32l4.70 4.70M219.05 341.02l4.70 -4.70M229.55 332.45l4.70 4.70M229.55 337.15l4.70 -4.70M242.15 327.80l4.70 4.70M242.15 332.50l4.70 -4.70M250.15 324.85l4.70 4.70M250.15 329.55l4.70 -4.70M252.15 324.12l4.70 4.70M252.15 328.82l4.70 -4.70M287.15 311.21l4.70 4.70M287.15 315.91l4.70 -4.70M304.65 304.75l4.70 4.70M304.65 309.45l4.70 -4.70M310.45 302.61l4.70 4.70M310.45 307.31l4.70 -4.70M316.25 300.48l4.70 4.70M316.25 305.18l4.70 -4.70M318.15 299.77l4.70 4.70M318.15 304.47l4.70 -4.70M320.55 298.89l4.70 4.70M320.55 303.59l4.70 -4.70M322.45 298.19l4.70 4.70M322.45 302.89l4.70 -4.70M334.25 293.84l4.70 4.70M334.25 298.54l4.70 -4.70M339.85 291.77l4.70 4.70M339.85 296.47l4.70 -4.70M342.35 290.85l4.70 4.70M342.35 295.55l4.70 -4.70M345.25 289.78l4.70 4.70M345.25 294.48l4.70 -4.70M352.55 287.09l4.70 4.70M352.55 291.79l4.70 -4.70M354.45 286.39l4.70 4.70M354.45 291.09l4.70 -4.70M361.85 283.66l4.70 4.70M361.85 288.36l4.70 -4.70M366.45 281.96l4.70 4.70M366.45 286.66l4.70 -4.70M377.45 277.90l4.70 4.70M377.45 282.60l4.70 -4.70" stroke="#0000ff" stroke-width="0.7" fill="none"/>
<path d="M384.85 275.18l4.70 4.70M384.85 279.88l4.70 -4.70M387.25 274.29l4.70 4.70M387.25 278.99l4.70 -4.70M390.05 273.26l4.70 4.70M390.05 277.96l4.70 -4.70M392.15 272.48l4.70 4.70M392.15 277.18l4.70 -4.70M394.55 271.60l4.70 4.70M394.55 276.30l4.70 -4.70M398.05 270.31l4.70 4.70M398.05 275.01l4.70 -4.70M400.45 269.42l4.70 4.70M400.45 274.12l4.70 -4.70M402.55 268.65l4.70 4.70M402.55 273.35l4.70 -4.70M405.75 267.47l4.70 4.70M405.75 272.17l4.70 -4.70M407.75 266.73l4.70 4.70M407.75 271.43l4.70 -4.70M410.55 265.70l4.70 4.70M410.55 270.40l4.70 -4.70M413.05 264.78l4.70 4.70M413.05 269.48l4.70 -4.70" stroke="#0000ff" stroke-width="1.25" fill="none"/>
<path d="M417.09 263.11l4.70 4.70M417.09 267.81l4.70 -4.70M418.53 262.89l4.70 4.70M418.53 267.59l4.70 -4.70M419.18 262.61l4.70 4.70M419.18 267.31l4.70 -4.70M419.72 262.30l4.70 4.70M419.72 267.00l4.70 -4.70M420.41 261.93l4.70 4.70M420.41 266.63l4.70 -4.70M420.64 262.07l4.70 4.70M420.64 266.77l4.70 -4.70M422.10 261.71l4.70 4.70M422.10 266.41l4.70 -4.70M422.83 261.13l4.70 4.70M422.83 265.83l4.70 -4.70M423.38 260.71l4.70 4.70M423.38 265.41l4.70 -4.70M424.58 260.26l4.70 4.70M424.58 264.96l4.70 -4.70M424.90 260.15l4.70 4.70M424.90 264.85l4.70 -4.70M425.09 260.61l4.70 4.70M425.09 265.31l4.70 -4.70M425.31 260.28l4.70 4.70M425.31 264.98l4.70 -4.70M425.85 260.26l4.70 4.70M425.85 264.96l4.70 -4.70M426.16 259.74l4.70 4.70M426.16 264.44l4.70 -4.70M427.18 259.42l4.70 4.70M427.18 264.12l4.70 -4.70M427.53 259.55l4.70 4.70M427.53 264.25l4.70 -4.70M427.85 259.55l4.70 4.70M427.85 264.25l4.70 -4.70M428.03 259.16l4.70 4.70M428.03 263.86l4.70 -4.70M428.31 258.89l4.70 4.70M428.31 263.59l4.70 -4.70M429.45 258.94l4.70 4.70M429.45 263.64l4.70 -4.70M430.62 258.17l4.70 4.70M430.62 262.87l4.70 -4.70M430.76 258.39l4.70 4.70M430.76 263.09l4.70 -4.70M431.15 257.89l4.70 4.70M431.15 262.59l4.70 -4.70M432.05 257.88l4.70 4.70M432.05 262.58l4.70 -4.70M432.32 257.87l4.70 4.70M432.32 262.57l4.70 -4.70M433.12 257.51l4.70 4.70M433.12 262.21l4.70 -4.70M433.54 257.13l4.70 4.70M433.54 261.83l4.70 -4.70M433.61 257.33l4.70 4.70M433.61 262.03l4.70 -4.70M433.98 256.84l4.70 4.70M433.98 261.54l4.70 -4.70M434.32 256.82l4.70 4.70M434.32 261.52l4.70 -4.70M434.46 256.83l4.70 4.70M434.46 261.53l4.70 -4.70M435.23 256.82l4.70 4.70M435.23 261.52l4.70 -4.70M436.12 256.06l4.70 4.70M436.12 260.76l4.70 -4.70M436.23 256.46l4.70 4.70M436.23 261.16l4.70 -4.70M436.46 256.32l4.70 4.70M436.46 261.02l4.70 -4.70M436.61 256.37l4.70 4.70M436.61 261.07l4.70 -4.70M437.04 255.85l4.70 4.70M437.04 260.55l4.70 -4.70M437.56 255.56l4.70 4.70M437.56 260.26l4.70 -4.70M438.77 255.13l4.70 4.70M438.77 259.83l4.70 -4.70M439.20 255.33l4.70 4.70M439.20 260.03l4.70 -4.70M439.32 255.37l4.70 4.70M439.32 260.07l4.70 -4.70M439.73 255.05l4.70 4.70M439.73 259.75l4.70 -4.70M439.96 254.84l4.70 4.70M439.96 259.54l4.70 -4.70M440.31 254.59l4.70 4.70M440.31 259.29l4.70 -4.70M440.38 254.90l4.70 4.70M440.38 259.60l4.70 -4.70M440.81 254.76l4.70 4.70M440.81 259.46l4.70 -4.70M440.83 254.28l4.70 4.70M440.83 258.98l4.70 -4.70M441.31 254.18l4.70 4.70M441.31 258.88l4.70 -4.70M441.83 254.36l4.70 4.70M441.83 259.06l4.70 -4.70M442.78 254.02l4.70 4.70M442.78 258.72l4.70 -4.70M442.97 253.63l4.70 4.70M442.97 258.33l4.70 -4.70M444.41 253.08l4.70 4.70M444.41 257.78l4.70 -4.70M444.64 253.08l4.70 4.70M444.64 257.78l4.70 -4.70M445.72 252.75l4.70 4.70M445.72 257.45l4.70 -4.70M445.82 252.45l4.70 4.70M445.82 257.15l4.70 -4.70M446.27 252.73l4.70 4.70M446.27 257.43l4.70 -4.70M446.63 252.41l4.70 4.70M446.63 257.11l4.70 -4.70M447.24 252.33l4.70 4.70M447.24 257.03l4.70 -4.70M447.75 251.82l4.70 4.70M447.75 256.52l4.70 -4.70M417.45 261.97l4.70 4.70M417.45 266.67l4.70 -4.70M418.66 261.37l4.70 4.70M418.66 266.07l4.70 -4.70M419.45 260.76l4.70 4.70M419.45 265.46l4.70 -4.70M419.77 261.12l4.70 4.70M419.77 265.82l4.70 -4.70M420.53 260.65l4.70 4.70M420.53 265.35l4.70 -4.70M420.99 260.60l4.70 4.70M420.99 265.30l4.70 -4.70M422.25 259.51l4.70 4.70M422.25 264.21l4.70 -4.70M423.18 259.19l4.70 4.70M423.18 263.89l4.70 -4.70M424.17 259.38l4.70 4.70M424.17 264.08l4.70 -4.70M424.74 258.82l4.70 4.70M424.74 263.52l4.70 -4.70M425.00 258.90l4.70 4.70M425.00 263.60l4.70 -4.70M425.24 258.52l4.70 4.70M425.24 263.22l4.70 -4.70M425.71 259.01l4.70 4.70M425.71 263.71l4.70 -4.70M425.96 258.54l4.70 4.70M425.96 263.24l4.70 -4.70M426.60 258.57l4.70 4.70M426.60 263.27l4.70 -4.70M427.35 257.70l4.70 4.70M427.35 262.40l4.70 -4.70M427.84 257.85l4.70 4.70M427.84 262.55l4.70 -4.70M428.03 257.45l4.70 4.70M428.03 262.15l4.70 -4.70M428.28 258.01l4.70 4.70M428.28 262.71l4.70 -4.70M428.80 257.48l4.70 4.70M428.80 262.18l4.70 -4.70M429.92 256.77l4.70 4.70M429.92 261.47l4.70 -4.70M430.64 256.52l4.70 4.70M430.64 261.22l4.70 -4.70M431.01 256.76l4.70 4.70M431.01 261.46l4.70 -4.70M431.47 256.22l4.70 4.70M431.47 260.92l4.70 -4.70M432.29 256.01l4.70 4.70M432.29 260.71l4.70 -4.70M433.11 255.92l4.70 4.70M433.11 260.62l4.70 -4.70M433.25 255.92l4.70 4.70M433.25 260.62l4.70 -4.70M433.56 255.87l4.70 4.70M433.56 260.57l4.70 -4.70M433.64 255.88l4.70 4.70M433.64 260.58l4.70 -4.70M434.16 255.49l4.70 4.70M434.16 260.19l4.70 -4.70M434.42 255.60l4.70 4.70M434.42 260.30l4.70 -4.70M434.58 255.17l4.70 4.70M434.58 259.87l4.70 -4.70M435.33 254.99l4.70 4.70M435.33 259.69l4.70 -4.70M436.19 255.10l4.70 4.70M436.19 259.80l4.70 -4.70M436.40 254.51l4.70 4.70M436.40 259.21l4.70 -4.70M436.48 254.54l4.70 4.70M436.48 259.24l4.70 -4.70M436.64 254.50l4.70 4.70M436.64 259.20l4.70 -4.70M437.43 254.40l4.70 4.70M437.43 259.10l4.70 -4.70M437.72 253.91l4.70 4.70M437.72 258.61l4.70 -4.70M438.95 253.49l4.70 4.70M438.95 258.19l4.70 -4.70M439.24 253.74l4.70 4.70M439.24 258.44l4.70 -4.70M439.52 253.40l4.70 4.70M439.52 258.10l4.70 -4.70M439.85 253.69l4.70 4.70M439.85 258.39l4.70 -4.70M440.11 253.69l4.70 4.70M440.11 258.39l4.70 -4.70M440.37 253.43l4.70 4.70M440.37 258.13l4.70 -4.70M440.42 253.50l4.70 4.70M440.42 258.20l4.70 -4.70M440.82 253.11l4.70 4.70M440.82 257.81l4.70 -4.70M441.26 252.68l4.70 4.70M441.26 257.38l4.70 -4.70M441.33 252.97l4.70 4.70M441.33 257.67l4.70 -4.70M441.88 252.72l4.70 4.70M441.88 257.42l4.70 -4.70M442.90 252.53l4.70 4.70M442.90 257.23l4.70 -4.70M444.33 251.64l4.70 4.70M444.33 256.34l4.70 -4.70M444.51 251.66l4.70 4.70M444.51 256.36l4.70 -4.70M444.89 251.99l4.70 4.70M444.89 256.69l4.70 -4.70M445.73 251.25l4.70 4.70M445.73 255.95l4.70 -4.70M445.99 251.27l4.70 4.70M445.99 255.97l4.70 -4.70M446.60 251.47l4.70 4.70M446.60 256.17l4.70 -4.70M446.84 250.86l4.70 4.70M446.84 255.56l4.70 -4.70M447.74 250.43l4.70 4.70M447.74 255.13l4.70 -4.70M447.85 250.84l4.70 4.70M447.85 255.54l4.70 -4.70" stroke="#0000ff" stroke-width="0.9" fill="none"/>
</svg>
</body></html>
